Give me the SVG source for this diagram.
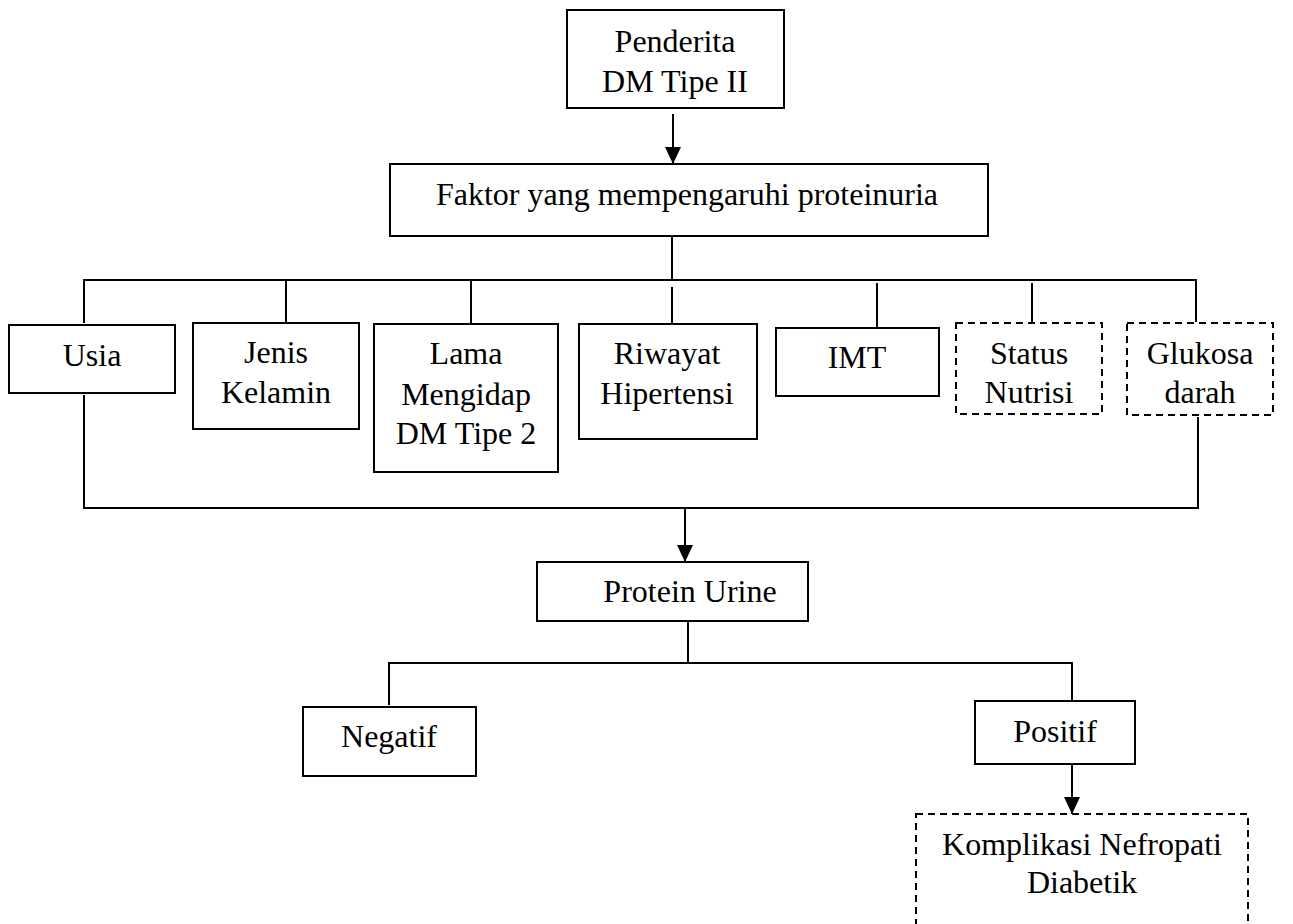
<svg xmlns="http://www.w3.org/2000/svg" width="1293" height="924" viewBox="0 0 1293 924">
<style>
.box{fill:#fff;stroke:#000;stroke-width:2}
.dash{fill:#fff;stroke:#000;stroke-width:2;stroke-dasharray:7 5}
.ln{fill:none;stroke:#000;stroke-width:2}
text{font-family:"Liberation Serif","Times New Roman",serif;font-size:32px;fill:#000;text-anchor:middle}
</style>
<defs>
<marker id="ah" markerUnits="userSpaceOnUse" markerWidth="18" markerHeight="16" refX="17" refY="8" orient="auto" viewBox="0 0 18 16">
<path d="M0,0 L17,8 L0,16 Z" fill="#000"/>
</marker>
</defs>
<g id="connectors">
<line class="ln" x1="673" y1="114" x2="673" y2="164" marker-end="url(#ah)"/>
<line class="ln" x1="672" y1="237" x2="672" y2="280"/>
<polyline class="ln" points="84,323 84,280 1196,280 1196,322"/>
<line class="ln" x1="286" y1="280" x2="286" y2="323"/>
<line class="ln" x1="471" y1="280" x2="471" y2="323"/>
<line class="ln" x1="672" y1="287" x2="672" y2="323"/>
<line class="ln" x1="877" y1="283" x2="877" y2="327"/>
<line class="ln" x1="1032" y1="283" x2="1032" y2="322"/>
<polyline class="ln" points="84,395 84,508 1198,508 1198,417"/>
<line class="ln" x1="685" y1="508" x2="685" y2="562" marker-end="url(#ah)"/>
<line class="ln" x1="688" y1="622" x2="688" y2="663"/>
<polyline class="ln" points="389,705 389,663 1072,663 1072,700"/>
<line class="ln" x1="1072" y1="765" x2="1072" y2="814" marker-end="url(#ah)"/>
</g>
<g id="n-penderita"><rect class="box" x="567" y="10" width="217" height="98"/><text x="675" y="52">Penderita</text><text x="675" y="92">DM Tipe II</text></g>
<g id="n-faktor"><rect class="box" x="390" y="164" width="598" height="72"/><text x="687" y="205">Faktor yang mempengaruhi proteinuria</text></g>
<g id="n-usia"><rect class="box" x="9" y="325" width="166" height="68"/><text x="92" y="366">Usia</text></g>
<g id="n-jenis"><rect class="box" x="193" y="323" width="166" height="106"/><text x="276" y="363">Jenis</text><text x="276" y="403">Kelamin</text></g>
<g id="n-lama"><rect class="box" x="374" y="324" width="184" height="148"/><text x="466" y="364">Lama</text><text x="466" y="405">Mengidap</text><text x="466" y="444">DM Tipe 2</text></g>
<g id="n-riwayat"><rect class="box" x="579" y="324" width="178" height="115"/><text x="667" y="364">Riwayat</text><text x="667" y="404">Hipertensi</text></g>
<g id="n-imt"><rect class="box" x="776" y="328" width="163" height="68"/><text x="857" y="368">IMT</text></g>
<g id="n-status"><rect class="dash" x="956" y="323" width="146" height="91"/><text x="1029" y="364">Status</text><text x="1029" y="403">Nutrisi</text></g>
<g id="n-glukosa"><rect class="dash" x="1127" y="323" width="146" height="92"/><text x="1200" y="364">Glukosa</text><text x="1200" y="403">darah</text></g>
<g id="n-protein"><rect class="box" x="537" y="562" width="271" height="59"/><text x="690" y="602">Protein Urine</text></g>
<g id="n-negatif"><rect class="box" x="303" y="707" width="173" height="69"/><text x="389" y="747">Negatif</text></g>
<g id="n-positif"><rect class="box" x="975" y="701" width="160" height="63"/><text x="1055" y="742">Positif</text></g>
<g id="n-komplikasi"><rect class="dash" x="916" y="814" width="332" height="120"/><text x="1082" y="855">Komplikasi Nefropati</text><text x="1082" y="893">Diabetik</text></g>
</svg>
